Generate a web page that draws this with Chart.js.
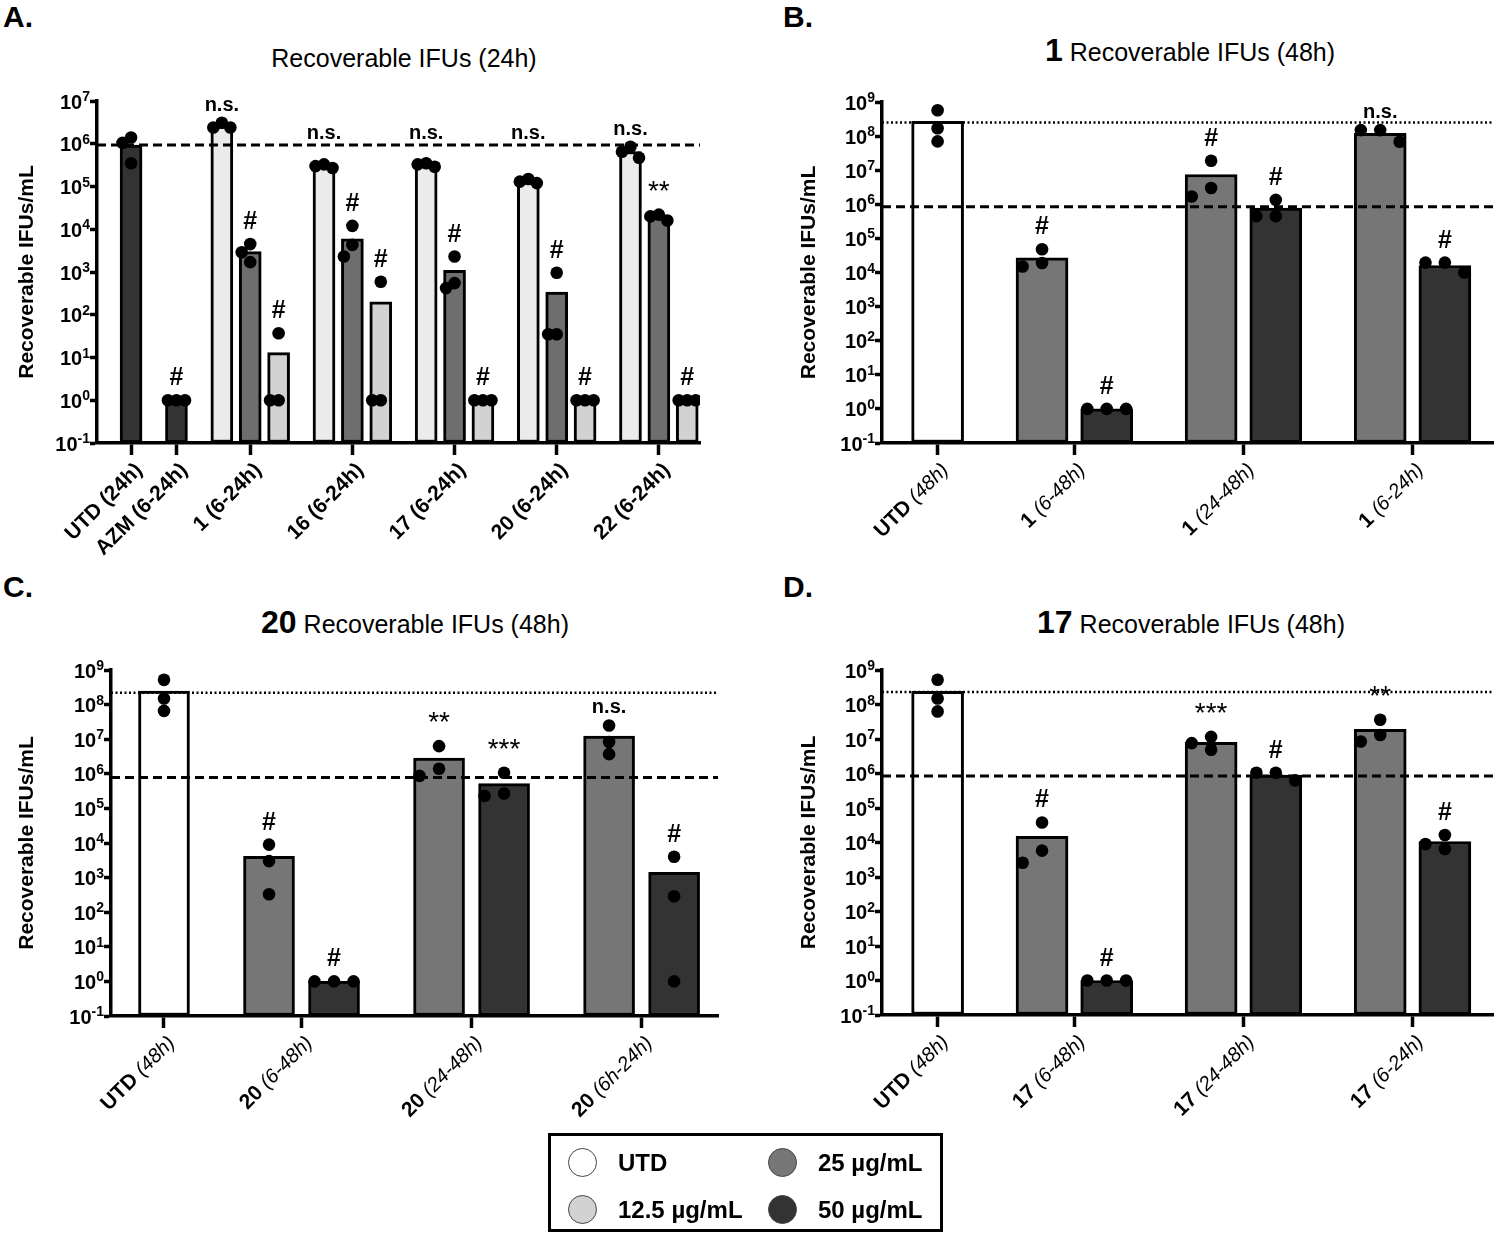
<!DOCTYPE html>
<html>
<head>
<meta charset="utf-8">
<script src="https://cdn.jsdelivr.net/npm/chart.js@4.4.0/dist/chart.umd.min.js"></script>
<style>
  body { margin: 0; background: #fff; width: 1500px; height: 1234px; position: relative; overflow: hidden;
         font-family: 'Liberation Sans', Arial, sans-serif; color: #000; }
  canvas { position: absolute; }
  .letter { position: absolute; font-weight: bold; font-size: 30px; }
  .title { position: absolute; font-size: 25px; white-space: nowrap; transform: translateX(-50%); }
  .title b { font-size: 32px; }
  #legend { position: absolute; left: 548px; top: 1133px; width: 389px; height: 93px; border: 3px solid #000; }
  .item { position: absolute; display: flex; align-items: center; font-weight: bold; font-size: 24px; }
  .dot { width: 29px; height: 29px; border-radius: 50%; border: 1.5px solid #444; margin-right: 21px; box-sizing: border-box; }
</style>
</head>
<body>
<div class="letter" style="left:3px;top:0">A.</div>
<div class="letter" style="left:783px;top:0">B.</div>
<div class="letter" style="left:3px;top:570px">C.</div>
<div class="letter" style="left:783px;top:570px">D.</div>
<div class="title" style="left:404px;top:44px">Recoverable IFUs (24h)</div>
<div class="title" style="left:1190px;top:32px"><b>1</b> Recoverable IFUs (48h)</div>
<div class="title" style="left:415px;top:604px"><b>20</b> Recoverable IFUs (48h)</div>
<div class="title" style="left:1191px;top:604px"><b>17</b> Recoverable IFUs (48h)</div>

<canvas id="cA" width="740" height="560" style="left:0;top:0"></canvas>
<canvas id="cB" width="740" height="560" style="left:760px;top:0"></canvas>
<canvas id="cC" width="740" height="564" style="left:0;top:570px"></canvas>
<canvas id="cD" width="740" height="564" style="left:760px;top:570px"></canvas>

<div id="legend">
  <div class="item" style="left:17px;top:12px"><div class="dot" style="background:#fff"></div>UTD</div>
  <div class="item" style="left:217px;top:12px"><div class="dot" style="background:#777"></div>25 µg/mL</div>
  <div class="item" style="left:17px;top:59px"><div class="dot" style="background:#d2d2d2"></div>12.5 µg/mL</div>
  <div class="item" style="left:217px;top:59px"><div class="dot" style="background:#333"></div>50 µg/mL</div>
</div>

<script>
// ---- Panel A: recoverable IFUs at 24h ----
const A_labels = [['UTD (24h)', ''], ['AZM (6-24h)', ''], ['1 (6-24h)', ''], ['16 (6-24h)', ''],
                  ['17 (6-24h)', ''], ['20 (6-24h)', ''], ['22 (6-24h)', '']];
const A_means = [[9.3e5], [1], [2.6e6, 3.0e3, 13], [3.0e5, 6.0e3, 200], [3.2e5, 1.1e3, 1],
                 [1.35e5, 340, 1], [6.6e5, 1.95e4, 1]];
const A_reps = [
  [[1.4e6, 1.05e6, 3.5e5]],
  [[1, 1, 1]],
  [[3.1e6, 2.4e6, 2.4e6], [4.5e3, 1.7e3, 2.9e3], [37, 1, 1]],
  [[3.3e5, 2.7e5, 3.0e5], [1.2e4, 2.3e3, 4.3e3], [590, 1, 1]],
  [[3.3e5, 3.5e5, 2.9e5], [2.3e3, 420, 550], [1, 1, 1]],
  [[1.5e5, 1.3e5, 1.2e5], [960, 35, 35], [1, 1, 1]],
  [[8.5e5, 4.7e5, 6.5e5], [2.2e4, 1.6e4, 2.0e4], [1, 1, 1]]
];
const A_marks = [[''], ['#'], ['n.s.', '#', '#'], ['n.s.', '#', '#'], ['n.s.', '#', '#'],
                 ['n.s.', '#', '#'], ['n.s.', '**', '#']];
const A_refs = [9.3e5];

// ---- Panel B: compound 1, 48h ----
const B_labels = [['UTD', ' (48h)'], ['1', ' (6-48h)'], ['1', ' (24-48h)'], ['1', ' (6-24h)']];
const B_means = [[2.7e8], [2.7e4, 1], [7.5e6, 7.8e5], [1.2e8, 1.6e4]];
const B_reps = [
  [[5.7e8, 1.7e8, 7e7]],
  [[4.8e4, 1.5e4, 1.9e4], [1, 1, 1]],
  [[1.9e7, 1.7e6, 3e6], [1.35e6, 4.5e5, 4.5e5]],
  [[1.5e8, 1.5e8, 6.8e7], [1.95e4, 1.95e4, 1e4]]
];
const B_marks = [[''], ['#', '#'], ['#', '#'], ['n.s.', '#']];
const B_refs = [2.5e8, 8.5e5];

// ---- Panel C: compound 20, 48h ----
const C_labels = [['UTD', ' (48h)'], ['20', ' (6-48h)'], ['20', ' (24-48h)'], ['20', ' (6h-24h)']];
const C_means = [[2.45e8], [4.1e3, 1], [2.85e6, 5.2e5], [1.24e7, 1.43e3]];
const C_reps = [
  [[5.2e8, 1.5e8, 6.6e7]],
  [[9e3, 3e3, 330], [1, 1, 1]],
  [[6.3e6, 8.7e5, 1.4e6], [1.07e6, 2.3e5, 2.7e5]],
  [[2.5e7, 8.3e6, 3.7e6], [4e3, 290, 1]]
];
const C_marks = [[''], ['#', '#'], ['**', '***'], ['n.s.', '#']];
const C_refs = [2.2e8, 7.8e5];

// ---- Panel D: compound 17, 48h ----
const D_labels = [['UTD', ' (48h)'], ['17', ' (6-48h)'], ['17', ' (24-48h)'], ['17', ' (6-24h)']];
const D_means = [[2.4e8], [1.5e4, 1], [8e6, 9e5], [1.9e7, 1.07e4]];
const D_reps = [
  [[5.2e8, 1.5e8, 6.3e7]],
  [[3.8e4, 5.8e3, 2.6e3], [1, 1, 1]],
  [[1.15e7, 4.9e6, 7.6e6], [1.05e6, 1.05e6, 6.3e5]],
  [[3.6e7, 8.5e6, 1.3e7], [1.65e4, 6.5e3, 9e3]]
];
const D_marks = [[''], ['#', '#'], ['***', '#'], ['**', '#']];
const D_refs = [2.3e8, 8.4e5];

// bar fills (style, kept apart from the data)
const A_fills = [['#333'], ['#333'], ['#ebebeb', '#6e6e6e', '#d2d2d2'], ['#ebebeb', '#6e6e6e', '#d2d2d2'],
                 ['#ebebeb', '#6e6e6e', '#d2d2d2'], ['#ebebeb', '#6e6e6e', '#d2d2d2'], ['#ebebeb', '#6e6e6e', '#d2d2d2']];
const BCD_fills = [['#fff'], ['#767676', '#333'], ['#767676', '#333'], ['#767676', '#333']];

const FONT = '"Liberation Sans", Arial, sans-serif';

// spread replicate dots sideways when they would overlap (GraphPad style)
function swarm(vals, thr) {
  const order = vals.map((v, i) => i).sort((a, b) => vals[b] - vals[a]);
  const placed = [], off = vals.map(() => 0);
  order.forEach(i => {
    const ly = Math.log10(vals[i]);
    for (const c of [0, -1, 1, -2, 2]) {
      if (!placed.some(p => Math.abs(p.ly - ly) < thr && p.c === c)) { off[i] = c; placed.push({ly, c}); break; }
    }
  });
  return off;
}

const overlay = {
  id: 'overlay',
  afterDraw(chart, args, o) {
    const ctx = chart.ctx, xs = chart.scales.x, ys = chart.scales.y, area = chart.chartArea;
    ctx.save();
    ctx.fillStyle = '#000';
    // y tick labels as 10 with a raised exponent
    ys.ticks.forEach(t => {
      const y = ys.getPixelForValue(t.value);
      const e = String(Math.round(Math.log10(t.value)));
      const r = area.left - 7;
      ctx.textAlign = 'right';
      ctx.textBaseline = 'alphabetic';
      ctx.font = 'bold 14px ' + FONT;
      ctx.fillText(e, r, y);
      const ew = ctx.measureText(e).width;
      ctx.font = 'bold 20px ' + FONT;
      ctx.fillText('10', r - ew, y + 7.5);
    });
    // significance marks above the highest replicate
    const dashY = ys.getPixelForValue(o.refs[o.refs.length - 1]);
    o.marks.forEach((g, gi) => g.forEach((m, bi) => {
      if (!m) return;
      const x = xs.getPixelForValue(o.pos[gi][bi]);
      const top = ys.getPixelForValue(Math.max(...o.reps[gi][bi])) - 6;
      ctx.textAlign = 'center';
      ctx.textBaseline = 'alphabetic';
      if (m === '#') { ctx.font = 'bold 25px ' + FONT; ctx.fillText(m, x, top - 9); }
      else if (m === 'n.s.') { ctx.font = 'bold 20px ' + FONT; ctx.fillText(m, x, Math.min(top, dashY) - 6); }
      else { ctx.font = '28px ' + FONT; ctx.fillText(m, x, top - 9); }
    }));
    // rotated category labels, bold name + italic time window
    o.labels.forEach((lab, gi) => {
      const cx = xs.getPixelForValue(o.centers[gi]);
      ctx.save();
      ctx.translate(cx + 8, area.bottom + 24);
      ctx.rotate(-Math.PI / 4);
      ctx.textAlign = 'right';
      ctx.textBaseline = 'middle';
      ctx.font = 'italic 20px ' + FONT;
      ctx.fillText(lab[1], 0, 0);
      const w = ctx.measureText(lab[1]).width;
      ctx.font = 'bold 21px ' + FONT;
      ctx.fillText(lab[0], -w, 0);
      ctx.restore();
    });
    ctx.restore();
  }
};

function makePanel(id, p) {
  // bar positions: step 1 inside a group, p.gap between groups
  let cur = 0;
  const pos = p.means.map((g, gi) => g.map((_, bi) => { if (gi || bi) cur += (bi === 0 ? p.gap : 1); return cur; }));
  const centers = pos.map(g => g.reduce((a, b) => a + b, 0) / g.length);
  const bars = [], fills = [], dots = [];
  p.means.forEach((g, gi) => g.forEach((v, bi) => {
    bars.push({x: pos[gi][bi], y: v});
    fills.push(p.fills[gi][bi]);
    const r = p.reps[gi][bi];
    const off = swarm(r, p.thr);
    r.forEach((val, k) => dots.push({x: pos[gi][bi] + off[k] * p.step, y: val}));
  }));
  const refSets = p.refs.map((v, i) => ({
    type: 'line', order: 1,
    data: [{x: p.xmin, y: v}, {x: p.xmax, y: v}],
    borderColor: '#000', borderWidth: i === 0 && p.refs.length > 1 ? 2.5 : 3,
    borderDash: i === 0 && p.refs.length > 1 ? [2, 2.5] : [9, 5],
    pointRadius: 0, fill: false
  }));
  const maxExp = Math.round(Math.log10(p.ymax));
  new Chart(document.getElementById(id), {
    type: 'bar',
    data: {
      datasets: [
        {type: 'scatter', order: 0, data: dots, backgroundColor: '#000', borderColor: '#000',
         pointRadius: 6.3, pointHoverRadius: 6.3, borderWidth: 0},
        ...refSets,
        {type: 'bar', order: 2, data: bars, backgroundColor: fills, borderColor: '#000', borderWidth: 3,
         borderSkipped: false, grouped: false, barThickness: p.barW, base: 0.1}
      ]
    },
    options: {
      responsive: false, animation: false, events: [],
      layout: {padding: {top: p.top, right: p.right, bottom: 0, left: 0}},
      plugins: {legend: {display: false}, tooltip: {enabled: false},
                overlay: {marks: p.marks, reps: p.reps, refs: p.refs, pos, centers, labels: p.labels}},
      scales: {
        x: {
          type: 'linear', min: p.xmin, max: p.xmax, offset: false,
          afterBuildTicks: s => { s.ticks = centers.map(v => ({value: v})); },
          afterFit: s => { s.height = p.xh; },
          ticks: {callback: () => '', autoSkip: false},
          grid: {offset: false, drawOnChartArea: false, drawTicks: true, tickLength: 12, tickWidth: 3.5, color: '#000'},
          border: {color: '#000', width: 3.5}
        },
        y: {
          type: 'logarithmic', min: 0.1, max: p.ymax,
          afterBuildTicks: s => { s.ticks = []; for (let e = -1; e <= maxExp; e++) s.ticks.push({value: Math.pow(10, e)}); },
          afterFit: s => { s.width = p.yw; },
          ticks: {callback: () => ''},
          grid: {offset: false, drawOnChartArea: false, drawTicks: true, tickLength: 7, tickWidth: 3.5, color: '#000'},
          border: {color: '#000', width: 3.5},
          title: {display: true, text: 'Recoverable IFUs/mL', color: '#000', padding: {top: p.tpad},
                  font: {family: 'Liberation Sans', weight: 'bold', size: 21}}
        }
      }
    },
    plugins: [overlay]
  });
}

makePanel('cA', {labels: A_labels, means: A_means, reps: A_reps, marks: A_marks, refs: A_refs, fills: A_fills,
  gap: 1.6, xmin: -1.2, xmax: 20.05, ymax: 1e7, barW: 22, step: 0.3, thr: 0.28,
  top: 101, right: 40, xh: 117, yw: 97, tpad: 15});
makePanel('cB', {labels: B_labels, means: B_means, reps: B_reps, marks: B_marks, refs: B_refs, fills: BCD_fills,
  gap: 1.615, xmin: -0.86, xmax: 8.6, ymax: 1e9, barW: 52, step: 0.3, thr: 0.35,
  top: 102, right: 3, xh: 117, yw: 122, tpad: 37});
makePanel('cC', {labels: C_labels, means: C_means, reps: C_reps, marks: C_marks, refs: C_refs, fills: BCD_fills,
  gap: 1.615, xmin: -0.815, xmax: 8.52, ymax: 1e9, barW: 51, step: 0.3, thr: 0.35,
  top: 100, right: 22, xh: 118, yw: 111, tpad: 15});
makePanel('cD', {labels: D_labels, means: D_means, reps: D_reps, marks: D_marks, refs: D_refs, fills: BCD_fills,
  gap: 1.615, xmin: -0.86, xmax: 8.6, ymax: 1e9, barW: 52, step: 0.3, thr: 0.35,
  top: 100, right: 3, xh: 119, yw: 122, tpad: 37});
</script>
</body>
</html>
